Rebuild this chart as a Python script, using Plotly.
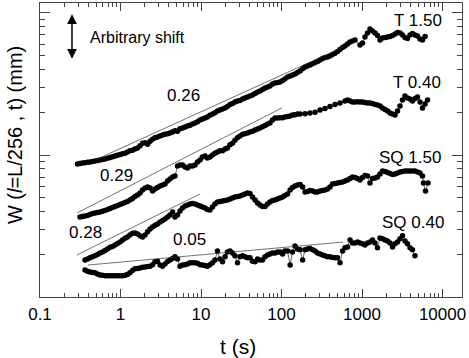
import plotly.graph_objects as go

# ---- data (t in s, W in arbitrary shifted units) ----
t_T150 = [0.292, 0.314, 0.337, 0.362, 0.389, 0.418, 0.449, 0.482, 0.518, 0.556,
          0.597, 0.641, 0.689, 0.741, 0.796, 0.855, 0.918, 0.986, 1.06, 1.14,
          1.22, 1.31, 1.41, 1.51, 1.63, 1.75, 1.88, 2.02, 2.17, 2.33,
          2.50, 2.68, 2.88, 3.10, 3.33, 3.57, 3.84, 4.12, 4.43, 4.75,
          5.11, 5.48, 5.89, 6.33, 6.80, 7.30, 7.84, 8.42, 9.05, 9.72,
          10.4, 11.2, 12.0, 12.9, 13.9, 14.9, 16.0, 17.2, 18.5, 19.9,
          21.3, 22.9, 24.6, 26.4, 28.4, 30.5, 32.8, 35.2, 37.8, 40.6,
          43.6, 46.9, 50.4, 54.1, 58.1, 62.4, 67.0, 71.9, 77.3, 83.0,
          89.2, 95.8, 103, 110, 119, 128, 137, 147, 158, 170,
          183, 196, 211, 226, 243, 261, 280, 301, 323, 347,
          373, 400, 430, 462, 496, 533, 573, 615, 661, 710,
          762, 818, 944, 1014, 1090, 1170, 1256, 1350, 1449, 1557,
          1674, 1797, 1932, 2074, 2228, 2393, 2570, 2760, 2965, 3184,
          3420, 3673, 3945, 4237, 4550, 4887, 5250, 5638, 6065]
w_T150 = [0.865, 0.872, 0.879, 0.883, 0.889, 0.893, 0.900, 0.908, 0.915, 0.922,
          0.930, 0.937, 0.948, 0.960, 0.971, 0.984, 0.995, 1.008, 1.02, 1.03,
          1.05, 1.07, 1.08, 1.10, 1.12, 1.16, 1.21, 1.22, 1.19, 1.25,
          1.29, 1.32, 1.34, 1.36, 1.38, 1.40, 1.41, 1.43, 1.45, 1.48,
          1.47, 1.53, 1.55, 1.57, 1.60, 1.62, 1.65, 1.68, 1.71, 1.76,
          1.79, 1.82, 1.85, 1.90, 1.94, 1.98, 2.04, 2.07, 2.10, 2.14,
          2.19, 2.26, 2.30, 2.36, 2.39, 2.41, 2.47, 2.51, 2.55, 2.60,
          2.64, 2.70, 2.77, 2.81, 2.88, 2.95, 3.00, 3.05, 3.15, 3.20,
          3.23, 3.25, 3.33, 3.41, 3.53, 3.58, 3.64, 3.70, 3.79, 3.89,
          4.04, 4.14, 4.21, 4.28, 4.38, 4.46, 4.53, 4.64, 4.75, 4.83,
          4.87, 4.95, 5.07, 5.19, 5.32, 5.50, 5.68, 5.82, 6.01, 6.21,
          6.31, 6.41, 5.91, 6.11, 6.73, 7.18, 7.66, 7.42, 7.18, 6.89,
          6.41, 6.62, 6.68, 6.73, 6.79, 6.89, 7.07, 7.24, 7.18, 6.95,
          6.68, 6.57, 6.95, 7.12, 6.95, 6.84, 6.52, 6.41, 6.79]

t_T040 = [0.314, 0.337, 0.362, 0.389, 0.418, 0.449, 0.482, 0.518, 0.556, 0.597,
          0.641, 0.689, 0.741, 0.796, 0.855, 0.918, 0.986, 1.06, 1.14, 1.22,
          1.31, 1.41, 1.51, 1.63, 1.75, 1.88, 2.02, 2.17, 2.33, 2.50,
          2.68, 2.88, 3.10, 3.33, 3.57, 3.84, 4.12, 4.43, 4.75, 5.11,
          5.48, 5.89, 6.33, 6.80, 7.30, 7.84, 8.42, 9.05, 9.72, 10.4,
          11.2, 12.0, 12.9, 13.9, 14.9, 16.0, 17.2, 18.5, 19.9, 21.3,
          22.9, 24.6, 26.4, 28.4, 30.5, 32.8, 35.2, 37.8, 40.6, 43.6,
          46.9, 50.4, 54.1, 58.1, 62.4, 67.0, 71.9, 77.3, 83.0, 89.2,
          95.8, 103, 110, 119, 128, 137, 147, 158, 170, 196,
          226, 261, 301, 347, 400, 462, 533, 615, 661, 710,
          762, 818, 879, 944, 1014, 1090, 1170, 1256, 1350, 1449,
          1557, 1674, 1797, 1932, 2074, 2228, 2393, 2570, 2760, 2965,
          3184, 3420, 3673, 3945, 4237, 4550, 4887, 5250, 5638, 6065,
          6510]
w_T040 = [0.367, 0.370, 0.373, 0.377, 0.383, 0.389, 0.392, 0.395, 0.398, 0.403,
          0.408, 0.414, 0.421, 0.428, 0.435, 0.442, 0.450, 0.457, 0.465, 0.472,
          0.483, 0.495, 0.511, 0.524, 0.541, 0.568, 0.587, 0.596, 0.587, 0.559,
          0.577, 0.591, 0.606, 0.616, 0.626, 0.657, 0.679, 0.701, 0.713, 0.837,
          0.851, 0.851, 0.824, 0.811, 0.837, 0.837, 0.851, 0.893, 0.922, 0.968,
          0.984, 0.953, 0.968, 1.00, 1.03, 1.05, 1.07, 1.07, 1.10, 1.12,
          1.18, 1.21, 1.27, 1.32, 1.36, 1.40, 1.41, 1.43, 1.45, 1.47,
          1.50, 1.52, 1.55, 1.58, 1.61, 1.65, 1.68, 1.76, 1.82, 1.82,
          1.83, 1.83, 1.85, 1.86, 1.88, 1.91, 1.92, 1.94, 1.94, 1.95,
          1.97, 2.00, 2.07, 2.12, 2.19, 2.26, 2.32, 2.39, 2.43, 2.39,
          2.36, 2.36, 2.37, 2.36, 2.36, 2.34, 2.32, 2.32, 2.30, 2.26,
          2.24, 2.21, 2.14, 2.09, 2.04, 1.97, 1.94, 1.91, 2.04, 2.21,
          2.43, 2.60, 2.51, 2.47, 2.39, 2.49, 2.55, 2.36, 2.14, 2.28,
          2.43]

t_SQ150 = [0.362, 0.389, 0.418, 0.449, 0.482, 0.518, 0.556, 0.597, 0.641, 0.689,
           0.741, 0.796, 0.855, 0.918, 0.986, 1.06, 1.14, 1.22, 1.31, 1.41,
           1.51, 1.63, 1.75, 1.88, 2.02, 2.17, 2.33, 2.50, 2.68, 2.88,
           3.10, 3.33, 3.57, 3.84, 4.12, 4.43, 4.75, 5.11, 5.48, 5.89,
           6.33, 6.80, 7.30, 7.84, 8.42, 9.05, 9.72, 10.4, 11.2, 12.0,
           12.9, 13.9, 14.9, 16.0, 17.2, 18.5, 19.9, 21.3, 22.9, 24.6,
           26.4, 28.4, 30.5, 32.8, 35.2, 37.8, 40.6, 43.6, 46.9, 50.4,
           54.1, 58.1, 62.4, 67.0, 71.9, 77.3, 83.0, 89.2, 95.8, 103,
           110, 119, 128, 137, 147, 158, 170, 183, 196, 211,
           226, 243, 261, 280, 301, 323, 347, 373, 400, 430,
           462, 496, 533, 573, 615, 661, 710, 762, 818, 879,
           944, 1014, 1090, 1170, 1256, 1350, 1449, 1557, 1674, 1797,
           1932, 2074, 2228, 2393, 2570, 2760, 2965, 3184, 3420, 3673,
           3945, 4237, 4550, 4887, 5250, 5638, 5800, 6150, 6600]
w_SQ150 = [0.183, 0.186, 0.190, 0.193, 0.196, 0.200, 0.205, 0.209, 0.214, 0.219,
           0.225, 0.228, 0.234, 0.239, 0.245, 0.253, 0.260, 0.266, 0.275, 0.282,
           0.284, 0.279, 0.271, 0.266, 0.275, 0.289, 0.303, 0.313, 0.321, 0.328,
           0.339, 0.347, 0.356, 0.367, 0.379, 0.398, 0.367, 0.379, 0.405, 0.425,
           0.439, 0.446, 0.453, 0.457, 0.453, 0.446, 0.439, 0.432, 0.425, 0.414,
           0.411, 0.432, 0.453, 0.468, 0.472, 0.476, 0.479, 0.483, 0.491, 0.499,
           0.507, 0.512, 0.516, 0.524, 0.533, 0.541, 0.537, 0.507, 0.483, 0.461,
           0.446, 0.435, 0.435, 0.453, 0.468, 0.479, 0.483, 0.491, 0.499, 0.507,
           0.520, 0.533, 0.568, 0.591, 0.606, 0.616, 0.621, 0.596, 0.550, 0.554,
           0.563, 0.559, 0.550, 0.550, 0.559, 0.563, 0.568, 0.577, 0.596, 0.626,
           0.631, 0.636, 0.641, 0.646, 0.657, 0.667, 0.684, 0.701, 0.696, 0.684,
           0.667, 0.696, 0.719, 0.713, 0.636, 0.684, 0.690, 0.701, 0.736, 0.772,
           0.766, 0.754, 0.742, 0.730, 0.736, 0.748, 0.760, 0.766, 0.772, 0.772,
           0.772, 0.772, 0.772, 0.760, 0.748, 0.713, 0.636, 0.559, 0.636]

t_SQ040 = [0.362, 0.389, 0.418, 0.449, 0.482, 0.518, 0.556, 0.597, 0.641, 0.689,
           0.741, 0.796, 0.855, 0.918, 0.986, 1.06, 1.14, 1.22, 1.31, 1.41,
           1.51, 1.63, 1.75, 1.88, 2.02, 2.17, 2.33, 2.50, 2.68, 2.88,
           3.10, 3.33, 3.57, 3.84, 4.12, 4.43, 4.75, 5.11, 5.48, 5.89,
           6.33, 6.80, 7.30, 7.84, 8.42, 9.05, 9.72, 10.4, 11.2, 12.0,
           12.9, 13.9, 14.9, 16.0, 17.2, 18.5, 19.9, 21.3, 22.9, 24.6,
           26.4, 28.4, 30.5, 32.8, 35.2, 37.8, 40.6, 43.6, 46.9, 50.4,
           54.1, 58.1, 62.4, 67.0, 71.9, 77.3, 83.0, 89.2, 95.8, 103,
           110, 119, 128, 137, 147, 158, 170, 183, 196, 211,
           226, 243, 261, 280, 301, 323, 347, 373, 400, 430,
           462, 496, 533, 573, 615, 661, 710, 762, 818, 879,
           944, 1014, 1090, 1170, 1256, 1350, 1449, 1557, 1674, 1797,
           1932, 2074, 2228, 2393, 2570, 2760, 2965, 3184, 3420, 3673,
           3945, 4237, 4550]
w_SQ040 = [0.156, 0.153, 0.151, 0.150, 0.149, 0.146, 0.144, 0.143, 0.142, 0.142,
           0.142, 0.142, 0.142, 0.142, 0.142, 0.142, 0.143, 0.145, 0.149, 0.155,
           0.159, 0.160, 0.161, 0.163, 0.164, 0.165, 0.166, 0.170, 0.178, 0.180,
           0.169, 0.166, 0.172, 0.179, 0.183, 0.188, 0.193, 0.186, 0.166, 0.169,
           0.170, 0.172, 0.175, 0.175, 0.175, 0.174, 0.170, 0.169, 0.168, 0.166,
           0.170, 0.175, 0.183, 0.212, 0.186, 0.178, 0.193, 0.209, 0.212, 0.205,
           0.196, 0.175, 0.193, 0.196, 0.193, 0.190, 0.190, 0.180, 0.178, 0.186,
           0.183, 0.183, 0.193, 0.199, 0.202, 0.205, 0.205, 0.209, 0.209, 0.202,
           0.212, 0.212, 0.169, 0.209, 0.230, 0.219, 0.216, 0.183, 0.216, 0.219,
           0.221, 0.216, 0.212, 0.205, 0.202, 0.199, 0.196, 0.193, 0.193, 0.191,
           0.190, 0.190, 0.175, 0.212, 0.223, 0.226, 0.253, 0.241, 0.241, 0.245,
           0.241, 0.238, 0.234, 0.241, 0.245, 0.253, 0.241, 0.223, 0.262, 0.258,
           0.253, 0.249, 0.241, 0.226, 0.238, 0.245, 0.258, 0.271, 0.249, 0.238,
           0.223, 0.216, 0.196]

# power-law fits: (t_start, t_end), (W_start, W_end)
fit_t = {"0.26": [0.482, 581], "0.29": [0.288, 101], "0.28": [0.288, 9.72], "0.05": [0.395, 581]}
fit_w = {"0.26": [0.922, 5.72], "0.29": [0.392, 2.14], "0.28": [0.199, 0.533], "0.05": [0.169, 0.245]}

series = [(t_T150, w_T150), (t_T040, w_T040), (t_SQ150, w_SQ150), (t_SQ040, w_SQ040)]
series_labels = ["T 1.50", "T 0.40", "SQ 1.50", "SQ 0.40"]

x_tickvals = [0.1, 1, 10, 100, 1000, 10000]
x_ticktext = ["0.1", "1", "10", "100", "1000", "10000"]

FONT = "Liberation Sans, Arial, Helvetica, sans-serif"

fig = go.Figure()
for t, w in series:
    fig.add_trace(go.Scatter(x=t, y=w, mode="lines+markers",
                             line=dict(color="#444", width=0.8),
                             marker=dict(color="black", size=5.5),
                             showlegend=False))
for k in fit_t:
    fig.add_trace(go.Scatter(x=fit_t[k], y=fit_w[k], mode="lines",
                             line=dict(color="#333", width=0.7),
                             showlegend=False))


def label(txt, px, py, size, **kw):
    return dict(text=txt, x=px, y=py, xref="paper", yref="paper", showarrow=False,
                xanchor="center", yanchor="middle",
                font=dict(size=size, color="black", family=FONT), **kw)


ann = []
for txt, (px, py) in zip(series_labels, [(0.896, 0.942), (0.893, 0.731), (0.877, 0.476), (0.884, 0.255)]):
    ann.append(label(txt, px, py, 17))
for txt, (px, py) in zip(fit_t.keys(), [(0.341, 0.684), (0.182, 0.412), (0.109, 0.218), (0.355, 0.194)]):
    ann.append(label(txt, px, py, 17))
ann.append(label("Arbitrary shift", 0.232, 0.881, 16))
ann.append(dict(text="", x=0.0758, y=0.962, xref="paper", yref="paper",
                ax=0, ay=46, showarrow=True, arrowside="end+start", arrowhead=2,
                arrowsize=1.3, arrowwidth=1.5, arrowcolor="black"))
ann.append(label("W (<i>l</i>=L/256 , t) (mm)", -0.059, 0.551, 20, textangle=-90))
ann.append(label("t (s)", 0.469, -0.17, 21))

axis_common = dict(type="log", showline=True, linecolor="#444", linewidth=1, mirror="ticks",
                   ticks="inside", tickcolor="#444", showgrid=False, zeroline=False)
fig.update_xaxes(**axis_common, range=[-1, 4.242], ticklen=8,
                 tickmode="array", tickvals=x_tickvals, ticktext=x_ticktext,
                 tickfont=dict(size=17, color="black", family=FONT), ticklabelstandoff=2,
                 minor=dict(ticks="inside", ticklen=4, tickcolor="#444", dtick="D1", showgrid=False))
fig.update_yaxes(**axis_common, range=[-0.9965, 1.067], ticklen=10, dtick=1, showticklabels=False,
                 minor=dict(ticks="inside", ticklen=5, tickcolor="#444", dtick="D1", showgrid=False))

fig.update_layout(width=469, height=358, margin=dict(l=40, r=7, t=3, b=61),
                  paper_bgcolor="white", plot_bgcolor="white", annotations=ann,
                  font=dict(family=FONT))
fig.write_html("out.html", config={"displayModeBar": False},
               post_script="document.body.style.margin='0px';")
